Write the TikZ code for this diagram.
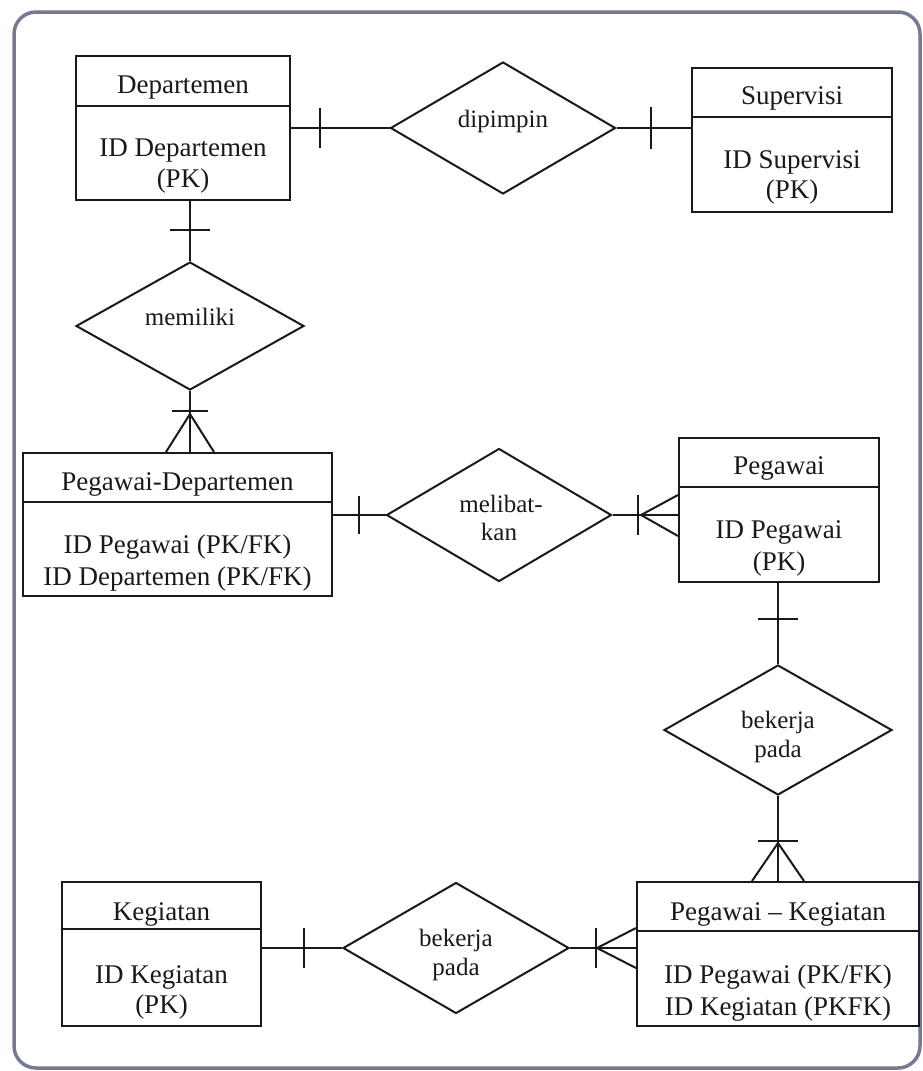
\documentclass[tikz,border=0pt]{standalone}
\usepackage{fontspec}
\setmainfont{Liberation Serif}
\usetikzlibrary{shapes.geometric,calc}
\definecolor{ink}{RGB}{25,25,25}
\definecolor{framecol}{RGB}{118,122,148}

\tikzset{
  entity/.style={draw=ink, line width=2pt, rectangle, inner sep=0pt},
  rel/.style={draw=ink, line width=2pt, diamond, inner sep=0pt},
  rtext/.style={font=\fontsize{25}{28}\selectfont, text=ink, inner sep=0pt, anchor=base},
  etext/.style={font=\fontsize{27}{32}\selectfont, text=ink, inner sep=0pt, anchor=base},
  link/.style={draw=ink, line width=2pt},
}

\begin{document}
\begin{tikzpicture}[x=1pt, y=-1pt]
\useasboundingbox (0,0) rectangle (922,1071);
% outer frame
\draw[framecol, line width=3.5pt, rounded corners=22pt] (14,12) rectangle (920,1068);

% ---------- entities ----------
\node[entity, minimum width=214pt, minimum height=144pt] (dep) at (183,128) {};
\draw[link] ($(dep.north west)+(0,51)$) -- ($(dep.north east)+(0,51)$);
\node[etext] (depT) at (183,93) {Departemen};
\node[etext] (depA1) at (183,156) {ID Departemen};
\node[etext] (depA2) at (183,187) {(PK)};

\node[entity, minimum width=200pt, minimum height=144pt] (sup) at (792,140) {};
\draw[link] ($(sup.north west)+(0,50)$) -- ($(sup.north east)+(0,50)$);
\node[etext] (supT) at (792,104) {Supervisi};
\node[etext] (supA1) at (792,168) {ID Supervisi};
\node[etext] (supA2) at (792,198) {(PK)};

\node[entity, minimum width=309pt, minimum height=143pt] (pd) at (177.5,524.5) {};
\draw[link] ($(pd.north west)+(0,50)$) -- ($(pd.north east)+(0,50)$);
\node[etext] (pdT) at (177.5,490) {Pegawai-Departemen};
\node[etext] (pdA1) at (177.5,553) {ID Pegawai (PK/FK)};
\node[etext] (pdA2) at (177.5,585) {ID Departemen (PK/FK)};

\node[entity, minimum width=200pt, minimum height=144pt] (peg) at (779,510) {};
\draw[link] ($(peg.north west)+(0,50)$) -- ($(peg.north east)+(0,50)$);
\node[etext] (pegT) at (779,474) {Pegawai};
\node[etext] (pegA1) at (779,538) {ID Pegawai};
\node[etext] (pegA2) at (779,570) {(PK)};

\node[entity, minimum width=199pt, minimum height=144pt] (keg) at (161.5,954) {};
\draw[link] ($(keg.north west)+(0,48)$) -- ($(keg.north east)+(0,48)$);
\node[etext] (kegT) at (161.5,920) {Kegiatan};
\node[etext] (kegA1) at (161.5,983) {ID Kegiatan};
\node[etext] (kegA2) at (161.5,1013) {(PK)};

\node[entity, minimum width=282pt, minimum height=144pt] (pk) at (778,954) {};
\draw[link] ($(pk.north west)+(0,50)$) -- ($(pk.north east)+(0,50)$);
\node[etext] (pkT) at (778,920) {Pegawai -- Kegiatan};
\node[etext] (pkA1) at (778,983) {ID Pegawai (PK/FK)};
\node[etext] (pkA2) at (778,1015) {ID Kegiatan (PKFK)};

% ---------- relationships ----------
\node[rel, minimum width=225pt, minimum height=132pt] (dip) at (503,128) {};
\node[rtext] (dipT) at (503,127) {dipimpin};
\node[rel, minimum width=228pt, minimum height=128pt] (mem) at (190,326) {};
\node[rtext] (memT) at (190,325) {memiliki};
\node[rel, minimum width=225pt, minimum height=133pt] (mel) at (499,515) {};
\node[rtext] (melT1) at (501,512) {melibat-};
\node[rtext] (melT2) at (499,540) {kan};
\node[rel, minimum width=228pt, minimum height=130pt] (bk1) at (778,730) {};
\node[rtext] (bk1T1) at (778,728) {bekerja};
\node[rtext] (bk1T2) at (778,757) {pada};
\node[rel, minimum width=226pt, minimum height=131pt] (bk2) at (456,948) {};
\node[rtext] (bk2T1) at (456,946) {bekerja};
\node[rtext] (bk2T2) at (456,975) {pada};

% ---------- connectors ----------
% Departemen -- dipimpin -- Supervisi
\draw[link] (dep.east) -- (dip.west);
\coordinate (t1) at ($(dep.east)+(29,0)$);
\draw[link] ($(t1)+(0,-20)$) -- ($(t1)+(0,20)$);
\coordinate (e1) at (dip.east -| sup.west);
\draw[link] (dip.east) -- (e1);
\coordinate (t2) at ($(e1)+(-40,0)$);
\draw[link] ($(t2)+(0,-21)$) -- ($(t2)+(0,21)$);

% Departemen -- memiliki
\coordinate (e2) at (mem.north |- dep.south);
\draw[link] (e2) -- (mem.north);
\coordinate (t3) at ($(e2)+(0,29)$);
\draw[link] ($(t3)+(-20,0)$) -- ($(t3)+(20,0)$);

% memiliki -- Pegawai-Departemen (many)
\coordinate (e3) at (mem.south |- pd.north);
\draw[link] (mem.south) -- (e3);
\coordinate (t4) at ($(e3)+(0,-41)$);
\draw[link] ($(t4)+(-18,0)$) -- ($(t4)+(18,0)$);
\draw[link] ($(e3)+(-24,0)$) -- ($(e3)+(0,-38)$) -- ($(e3)+(24,0)$);

% Pegawai-Departemen -- melibatkan
\coordinate (e4) at (mel.west -| pd.east);
\draw[link] (e4) -- (mel.west);
\coordinate (t5) at ($(e4)+(26,0)$);
\draw[link] ($(t5)+(0,-19)$) -- ($(t5)+(0,19)$);

% melibatkan -- Pegawai (many)
\coordinate (e5) at (mel.east -| peg.west);
\draw[link] (mel.east) -- (e5);
\coordinate (t6) at ($(e5)+(-40,0)$);
\draw[link] ($(t6)+(0,-20)$) -- ($(t6)+(0,20)$);
\draw[link] ($(e5)+(0,-20)$) -- ($(e5)+(-37,0)$) -- ($(e5)+(0,21)$);

% Pegawai -- bekerja pada
\coordinate (e6) at (bk1.north |- peg.south);
\draw[link] (e6) -- (bk1.north);
\coordinate (t7) at ($(e6)+(0,36)$);
\draw[link] ($(t7)+(-20,0)$) -- ($(t7)+(20,0)$);

% bekerja pada -- Pegawai-Kegiatan (many)
\coordinate (e7) at (bk1.south |- pk.north);
\draw[link] (bk1.south) -- (e7);
\coordinate (t8) at ($(e7)+(0,-40)$);
\draw[link] ($(t8)+(-20,0)$) -- ($(t8)+(20,0)$);
\draw[link] ($(e7)+(-26,0)$) -- ($(e7)+(0,-38)$) -- ($(e7)+(26,0)$);

% Kegiatan -- bekerja pada
\coordinate (e8) at (bk2.west -| keg.east);
\draw[link] (e8) -- (bk2.west);
\coordinate (t9) at ($(e8)+(42,0)$);
\draw[link] ($(t9)+(0,-20)$) -- ($(t9)+(0,20)$);

% bekerja pada -- Pegawai-Kegiatan (many)
\coordinate (e9) at (bk2.east -| pk.west);
\draw[link] (bk2.east) -- (e9);
\coordinate (t10) at ($(e9)+(-40,0)$);
\draw[link] ($(t10)+(0,-20)$) -- ($(t10)+(0,20)$);
\draw[link] ($(e9)+(0,-20)$) -- ($(e9)+(-39,0)$) -- ($(e9)+(0,20)$);
\end{tikzpicture}
\end{document}
